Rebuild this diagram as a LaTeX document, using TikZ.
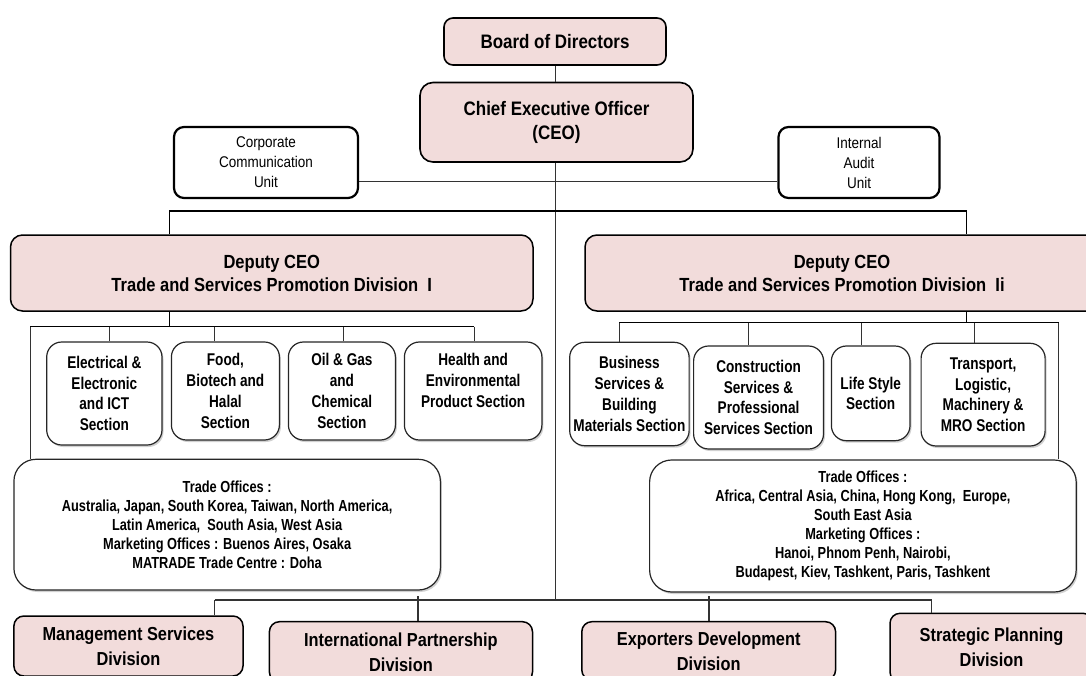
\documentclass[tikz,border=0pt]{standalone}
\usepackage{fontspec}
\setmainfont{Liberation Sans}[FakeStretch=0.87]
\newfontfamily\narrowsf{Liberation Sans}[FakeStretch=0.8]
\usetikzlibrary{shadows}
\definecolor{rosefill}{HTML}{F2DCDB}

\tikzset{
  pinkbox/.style={draw=black, line width=1.6pt, fill=rosefill, rounded corners=9pt,
    inner sep=0pt, align=center},
  unitbox/.style={draw=black, line width=2.2pt, fill=white, rounded corners=10pt,
    inner sep=0pt, align=center, font=\fontsize{15.5}{20}\selectfont},
  secbox/.style={draw=black!85, line width=1.2pt, fill=white, rounded corners=15pt,
    inner sep=0pt, align=center, font=\narrowsf\bfseries\fontsize{17}{20.8}\selectfont,
    drop shadow={shadow xshift=1.5pt, shadow yshift=-2pt, opacity=0.3, fill=black!60}},
  officebox/.style={secbox, rounded corners=22pt,
    font=\narrowsf\bfseries\fontsize{16}{19}\selectfont},
  divbox/.style={pinkbox, line width=1.5pt, rounded corners=10pt,
    font=\bfseries\fontsize{18.8}{25}\selectfont},
  link/.style={draw=black!80, line width=1.1pt},
}

\begin{document}
\begin{tikzpicture}[x=1pt, y=-1pt]
\useasboundingbox (0,0) rectangle (1086,675);
\clip (0,0) rectangle (1086,675);

% ---- top management ----
\node[pinkbox, minimum width=222pt, minimum height=47pt,
      font=\bfseries\fontsize{19.5}{23}\selectfont] (board) at (555,41.5) {Board of Directors};
\node[pinkbox, rounded corners=13pt, minimum width=273pt, minimum height=79.5pt,
      font=\bfseries\fontsize{19.5}{24}\selectfont] (ceo) at (556.5,122.25)
      {Chief Executive Officer\\(CEO)};
\node[unitbox, minimum width=184pt, minimum height=71pt] (ccu) at (266,162.5)
      {Corporate\\Communication\\Unit};
\node[unitbox, minimum width=161pt, minimum height=71pt] (iau) at (859,162.5)
      {Internal\\Audit\\Unit};

% ---- deputy CEOs ----
\node[pinkbox, line width=1.5pt, rounded corners=12pt, minimum width=522.5pt, minimum height=76pt,
      font=\bfseries\fontsize{19}{23}\selectfont] (dep1) at (271.75,273)
      {Deputy CEO\\Trade and Services Promotion Division~ I};
\node[pinkbox, line width=1.5pt, rounded corners=12pt, minimum width=514pt, minimum height=76pt,
      font=\bfseries\fontsize{19}{23}\selectfont] (dep2) at (842,273)
      {Deputy CEO\\Trade and Services Promotion Division~ Ii};

% ---- sections of division I ----
\node[secbox, minimum width=115.3pt, minimum height=103pt] (elec) at (104.35,393.5)
      {Electrical \&\\Electronic\\and ICT\\Section};
\node[secbox, minimum width=108pt, minimum height=98pt] (food) at (225.4,391)
      {Food,\\Biotech and\\Halal\\Section};
\node[secbox, minimum width=107pt, minimum height=98pt] (oil) at (341.9,391)
      {Oil \& Gas\\and\\Chemical\\Section};
\node[secbox, minimum width=137.5pt, minimum height=98pt] (health) at (473.15,391)
      {Health and\\Environmental\\Product Section\\\mbox{}};
\node[officebox, minimum width=426.5pt, minimum height=130.7pt] (trade1) at (227.15,524.65)
      {Trade Offices :\\
       Australia, Japan, South Korea, Taiwan, North America,\\
       Latin America,~ South Asia, West Asia\\
       Marketing Offices : Buenos Aires, Osaka\\
       MATRADE Trade Centre : Doha};

% ---- sections of division II ----
\node[secbox, minimum width=119.4pt, minimum height=103.4pt] (bus) at (629.4,394)
      {Business\\Services \&\\Building\\Materials Section};
\node[secbox, minimum width=129.9pt, minimum height=103pt] (con) at (758.55,397.5)
      {Construction\\Services \&\\Professional\\Services Section};
\node[secbox, minimum width=78.6pt, minimum height=94.7pt] (life) at (870.7,393.35)
      {Life Style\\Section};
\node[secbox, minimum width=124pt, minimum height=102.7pt] (trans) at (983.1,394.65)
      {Transport,\\Logistic,\\Machinery \&\\MRO Section};
\node[officebox, minimum width=426.6pt, minimum height=132pt] (trade2) at (862.9,526)
      {Trade Offices :\\
       Africa, Central Asia, China, Hong Kong,~ Europe,\\
       South East Asia\\
       Marketing Offices :\\
       Hanoi, Phnom Penh, Nairobi,\\
       Budapest, Kiev, Tashkent, Paris, Tashkent};

% ---- support divisions ----
\node[divbox, minimum width=229.1pt, minimum height=60pt] (mgmt) at (128.45,646)
      {Management Services\\Division};
\node[divbox, minimum width=263.1pt, minimum height=60.3pt] (intl) at (400.95,651.85)
      {International Partnership\\Division};
\node[divbox, minimum width=253.8pt, minimum height=58.3pt] (expd) at (708.7,650.85)
      {Exporters Development\\Division};
\node[divbox, minimum width=203pt, minimum height=68.7pt] (strat) at (991.5,647.65)
      {Strategic Planning\\Division};

% ---- junction points ----
\coordinate (trunk) at (555.8,600);
\coordinate (unitbar) at (0,181.7);
\coordinate (bar1) at (169.7,211);
\coordinate (bar2) at (966.3,211);
\coordinate (d1s) at (169.7,326.5);
\coordinate (r1L) at (30.1,326.5);
\coordinate (r1R) at (474.4,326.5);
\coordinate (e1) at (109.4,326.5);
\coordinate (e2) at (214.7,326.5);
\coordinate (e3) at (343.8,326.5);
\coordinate (d2s) at (966.1,322.7);
\coordinate (r2L) at (619.2,322.7);
\coordinate (r2R) at (1058.5,322.7);
\coordinate (f2) at (748.7,322.7);
\coordinate (f3) at (861.6,322.7);
\coordinate (f4) at (974.8,322.7);
\coordinate (b1) at (214.7,600);
\coordinate (b2) at (418,596);
\coordinate (b3) at (709,596);
\coordinate (b4) at (931.5,600);

% ---- connectors ----
\draw[link] (board.south -| trunk) -- (ceo.north -| trunk);
\draw[link] (ceo.south -| trunk) -- (trunk);
\draw[link] (ccu.east |- unitbar) -- (iau.west |- unitbar);
\draw[link, draw=black] (dep1.north -| bar1) -- (bar1) -- (bar2) -- (dep2.north -| bar2);

\draw[link, draw=black] (dep1.south -| d1s) -- (d1s);
\draw[link, draw=black] (r1L) -- (r1R);
\draw[link] (r1L) -- (trade1.north -| r1L);
\draw[link] (e1) -- (elec.north -| e1);
\draw[link] (e2) -- (food.north -| e2);
\draw[link] (e3) -- (oil.north -| e3);
\draw[link] (r1R) -- (health.north -| r1R);

\draw[link, draw=black] (dep2.south -| d2s) -- (d2s);
\draw[link, draw=black] (r2L) -- (r2R);
\draw[link] (r2L) -- (bus.north -| r2L);
\draw[link] (f2) -- (con.north -| f2);
\draw[link] (f3) -- (life.north -| f3);
\draw[link] (f4) -- (trans.north -| f4);
\draw[link] (r2R) -- (trade2.north -| r2R);

\draw[link] (b1) -- (b4);
\draw[link] (b1) -- (mgmt.north -| b1);
\draw[link] (b2) -- (intl.north -| b2);
\draw[link] (b3) -- (expd.north -| b3);
\draw[link] (b4) -- (strat.north -| b4);
\end{tikzpicture}
\end{document}
